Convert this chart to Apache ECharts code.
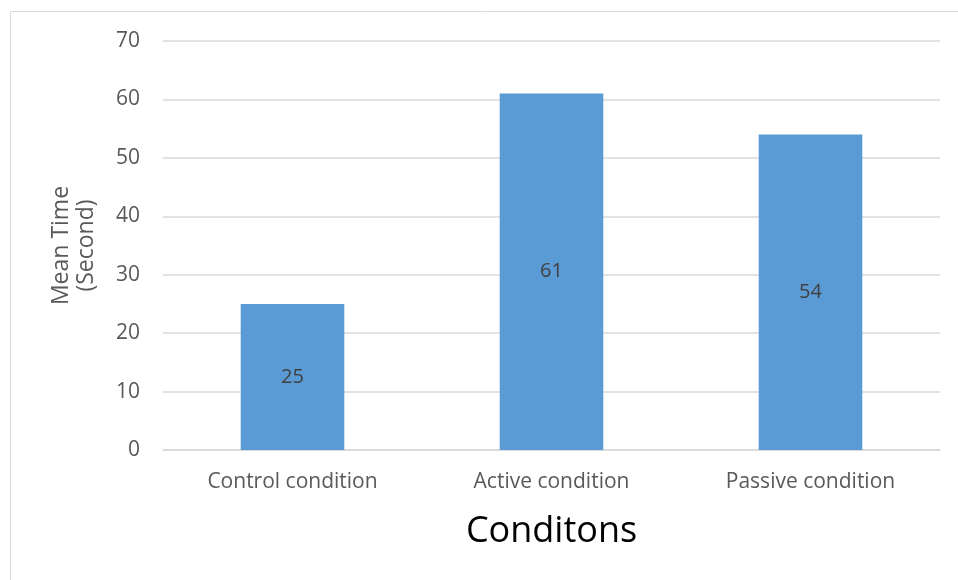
<!DOCTYPE html>
<html>
<head>
<meta charset="utf-8">
<script src="https://cdn.jsdelivr.net/npm/echarts@6/dist/echarts.min.js"></script>
<style>
  html, body { margin: 0; padding: 0; background: #fff; }
  #chart { width: 958px; height: 580px; }
</style>
</head>
<body>
<div id="chart"></div>
<script>
// Mean completion time per condition
const categories = ['Control condition', 'Active condition', 'Passive condition'];
const meanTimes = [25, 61, 54];
const yTicks = { min: 0, max: 70, interval: 10 };

const chart = echarts.init(document.getElementById('chart'));
const font = 'Open Sans, Noto Sans, sans-serif';

chart.setOption({
  animation: false,
  backgroundColor: '#ffffff',
  graphic: [{
    type: 'rect',
    shape: { x: 10.5, y: 11.5, width: 1000, height: 1000 },
    style: { fill: 'none', stroke: '#d9d9d9', lineWidth: 1 },
    silent: true
  }],
  grid: { left: 163, right: 18, top: 41, bottom: 130 },
  xAxis: {
    type: 'category',
    data: categories,
    name: 'Conditons',
    nameLocation: 'middle',
    nameGap: 64,
    nameTextStyle: { fontFamily: font, fontSize: 36, color: '#000000' },
    axisLine: { show: true, lineStyle: { color: '#d9d9d9', width: 1.5 } },
    axisTick: { show: false },
    axisLabel: { fontFamily: font, fontSize: 21, color: '#595959', margin: 22 }
  },
  yAxis: {
    type: 'value',
    min: yTicks.min,
    max: yTicks.max,
    interval: yTicks.interval,
    name: 'Mean Time\n(Second)',
    nameLocation: 'middle',
    nameGap: 64,
    nameTextStyle: { fontFamily: font, fontSize: 23, color: '#595959', lineHeight: 25 },
    axisLine: { show: false },
    axisTick: { show: false },
    axisLabel: { fontFamily: font, fontSize: 21, color: '#595959', margin: 23 },
    splitLine: { lineStyle: { color: '#d9d9d9', width: 1.5 } }
  },
  series: [{
    type: 'bar',
    data: meanTimes,
    barWidth: '40%',
    itemStyle: { color: '#5b9bd5' },
    label: {
      show: true,
      position: 'inside',
      fontFamily: font,
      fontSize: 20,
      color: '#404040'
    }
  }]
});
</script>
</body>
</html>
